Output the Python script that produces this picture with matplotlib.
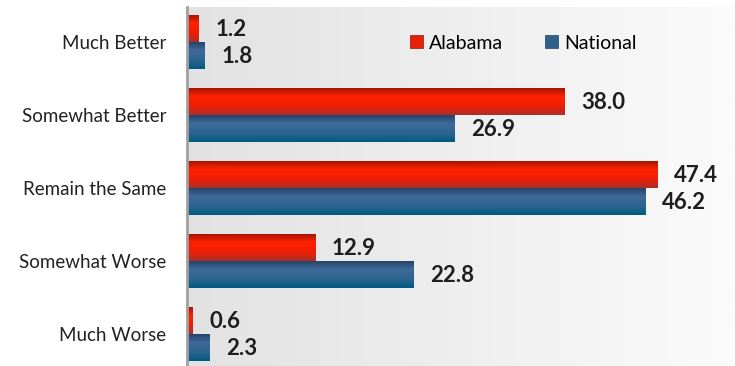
import numpy as np
import matplotlib.pyplot as plt
from matplotlib.colors import LinearSegmentedColormap
from matplotlib.patches import Patch

plt.rcParams['font.family'] = ['Lato', 'DejaVu Sans']

categories = ["Much Better", "Somewhat Better", "Remain the Same", "Somewhat Worse", "Much Worse"]
alabama = [1.2, 38.0, 47.4, 12.9, 0.6]
national = [1.8, 26.9, 46.2, 22.8, 2.3]

red_cmap = LinearSegmentedColormap.from_list("red", ["#9c1206", "#ff2200", "#f01e04", "#a8302a"])
blue_cmap = LinearSegmentedColormap.from_list("blue", ["#223f62", "#3e6a9a", "#2f6590", "#005a80"])
bg_cmap = LinearSegmentedColormap.from_list("bg", ["#e2e2e2", "#fbfbfb"])

fig = plt.figure(figsize=(7.35, 3.66), dpi=100)
ax = fig.add_axes([187 / 735, 0, 1 - 187 / 735, 359 / 366])

# background gradient
ax.imshow(np.linspace(0, 1, 256).reshape(1, -1), cmap=bg_cmap, aspect='auto',
          extent=[0, 1, 0, 1], transform=ax.transAxes, zorder=0)

y = np.arange(len(categories))
h = 0.37
grad = np.linspace(0, 1, 256).reshape(-1, 1)

def gradient_bars(vals, offset, cmap):
    bars = ax.barh(y + offset, vals, height=h, color='none', edgecolor='none', zorder=2)
    for b in bars:
        x0, y0 = b.get_x(), b.get_y()
        im = ax.imshow(grad, cmap=cmap, aspect='auto', zorder=2,
                       extent=[x0, x0 + b.get_width(), y0 + b.get_height(), y0])
        im.set_clip_path(b)
    for yy, v in zip(y + offset, vals):
        ax.annotate(f"{v:.1f}", (v, yy), xytext=(12, -1), textcoords='offset points',
                    va='center', ha='left', fontsize=16, fontweight='bold', color='#1e1e1e')

gradient_bars(alabama, -h / 2, red_cmap)
gradient_bars(national, h / 2, blue_cmap)

ax.set_xlim(0, 55.2)
ax.set_ylim(4.438, -0.479)
ax.set_yticks(y)
ax.set_yticklabels(categories, fontsize=13.5, color='#222222')
ax.tick_params(axis='y', length=0, pad=15)
ax.set_xticks([])
for s in ['top', 'right', 'bottom']:
    ax.spines[s].set_visible(False)
ax.spines['left'].set_color('#a0a0a0')
ax.spines['left'].set_linewidth(2)
ax.spines['left'].set_zorder(3)

handles = [Patch(facecolor='#e8200a', edgecolor='#8a1a10', linewidth=0.5),
           Patch(facecolor='#2f5f8c', edgecolor='#1f3f60', linewidth=0.5)]
ax.legend(handles, ["Alabama", "National"], loc='upper left', bbox_to_anchor=(0.375, 0.972),
          ncol=2, frameon=False, fontsize=14, handlelength=0.65, handleheight=0.65,
          handletextpad=0.3, columnspacing=2.2)

fig.savefig("out.png", dpi=100)
